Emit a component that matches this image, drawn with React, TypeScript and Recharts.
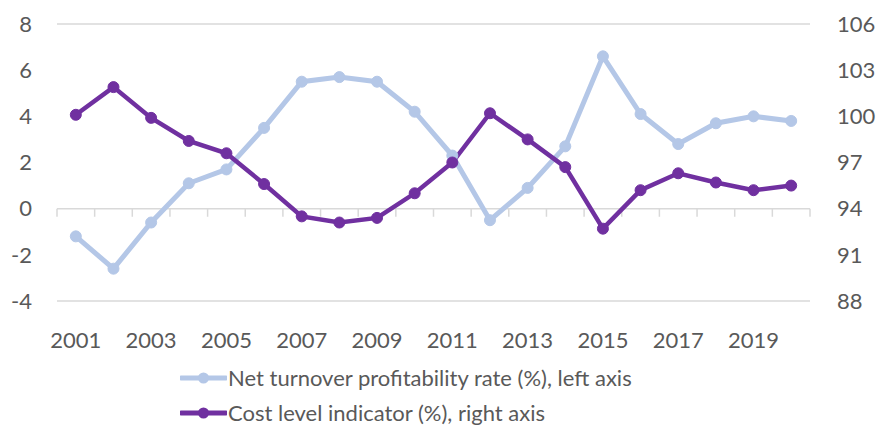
import React from 'react';
import { LineChart, Line, XAxis, YAxis, CartesianGrid, ReferenceLine } from 'recharts';

const years = [
  2001, 2002, 2003, 2004, 2005, 2006, 2007, 2008, 2009, 2010,
  2011, 2012, 2013, 2014, 2015, 2016, 2017, 2018, 2019, 2020,
];
const profitability = [
  -1.2, -2.6, -0.6, 1.1, 1.7, 3.5, 5.5, 5.7, 5.5, 4.2,
  2.3, -0.5, 0.9, 2.7, 6.6, 4.1, 2.8, 3.7, 4.0, 3.8,
];
const costLevel = [
  100.1, 101.9, 99.9, 98.4, 97.6, 95.6, 93.5, 93.1, 93.4, 95.0,
  97.0, 100.2, 98.5, 96.7, 92.7, 95.2, 96.3, 95.7, 95.2, 95.5,
];
const xTicks = [2001, 2003, 2005, 2007, 2009, 2011, 2013, 2015, 2017, 2019];
const leftTicks = [-4, -2, 0, 2, 4, 6, 8];
const rightTicks = [88, 91, 94, 97, 100, 103, 106];

const seriesNames = {
  profit: 'Net turnover profitability rate (%), left axis',
  cost: 'Cost level indicator (%), right axis',
};

const BLUE = '#b4c7e7';
const PURPLE = '#7030a0';
const GREY = '#595959';
const GRID = '#d9d9d9';
const FONT = 'Lato, "Open Sans", sans-serif';

const data = years.map((year, i) => ({
  year,
  profit: profitability[i],
  cost: costLevel[i],
}));

// category boundaries for the little tick marks on the zero line
const boundaries = [years[0] - 0.5, ...years.map((y) => y + 0.5)];

const LegendItem: React.FC<{ color: string; label: string }> = ({ color, label }) => (
  <div style={{ display: 'flex', alignItems: 'center', height: 35 }}>
    <svg width={47} height={14} style={{ marginRight: 1 }}>
      <line x1={1} y1={7} x2={46} y2={7} stroke={color} strokeWidth={5} strokeLinecap="round" />
      <circle cx={23.5} cy={7} r={5.5} fill={color} />
    </svg>
    <span style={{ color: GREY, fontSize: 22, fontFamily: FONT }}>{label}</span>
  </div>
);

const App: React.FC = () => {
  return (
    <div style={{ position: 'absolute', left: 0, top: 0, width: 880, height: 427, background: '#fff' }}>
      <LineChart
        width={880}
        height={360}
        data={data}
        margin={{ top: 24, right: 10, bottom: 19, left: 7 }}
      >
        <CartesianGrid horizontal vertical={false} stroke={GRID} strokeWidth={1.5} />
        <XAxis
          dataKey="year"
          type="number"
          domain={[2000.5, 2020.5]}
          ticks={xTicks}
          axisLine={false}
          tickLine={false}
          height={40}
          tickSize={0}
          tickMargin={31}
          tick={{ fill: GREY, fontSize: 22, fontFamily: FONT }}
        />
        <YAxis
          yAxisId="left"
          domain={[-4, 8]}
          ticks={leftTicks}
          axisLine={false}
          tickLine={false}
          width={50}
          tickSize={0}
          tickMargin={25}
          tick={{ fill: GREY, fontSize: 22, fontFamily: FONT }}
        />
        <YAxis
          yAxisId="right"
          orientation="right"
          domain={[88, 106]}
          ticks={rightTicks}
          axisLine={false}
          tickLine={false}
          width={60}
          tickSize={0}
          tickMargin={27}
          tick={{ fill: GREY, fontSize: 22, fontFamily: FONT, textAnchor: 'start' }}
        />
        <ReferenceLine yAxisId="left" y={0} stroke={GRID} strokeWidth={1.5} />
        {boundaries.map((b) => (
          <ReferenceLine
            key={b}
            yAxisId="left"
            segment={[{ x: b, y: 0 }, { x: b, y: -0.35 }]}
            stroke={GRID}
            strokeWidth={1.5}
          />
        ))}
        <Line
          yAxisId="left"
          dataKey="profit"
          name={seriesNames.profit}
          stroke={BLUE}
          strokeWidth={5}
          dot={{ r: 5.5, fill: BLUE, stroke: BLUE, strokeWidth: 1 }}
          isAnimationActive={false}
        />
        <Line
          yAxisId="right"
          dataKey="cost"
          name={seriesNames.cost}
          stroke={PURPLE}
          strokeWidth={4.5}
          dot={{ r: 5.5, fill: PURPLE, stroke: PURPLE, strokeWidth: 1 }}
          isAnimationActive={false}
        />
      </LineChart>
      <div style={{ position: 'absolute', left: 180, top: 360 }}>
        <LegendItem color={BLUE} label={seriesNames.profit} />
        <LegendItem color={PURPLE} label={seriesNames.cost} />
      </div>
    </div>
  );
};

export default App;
